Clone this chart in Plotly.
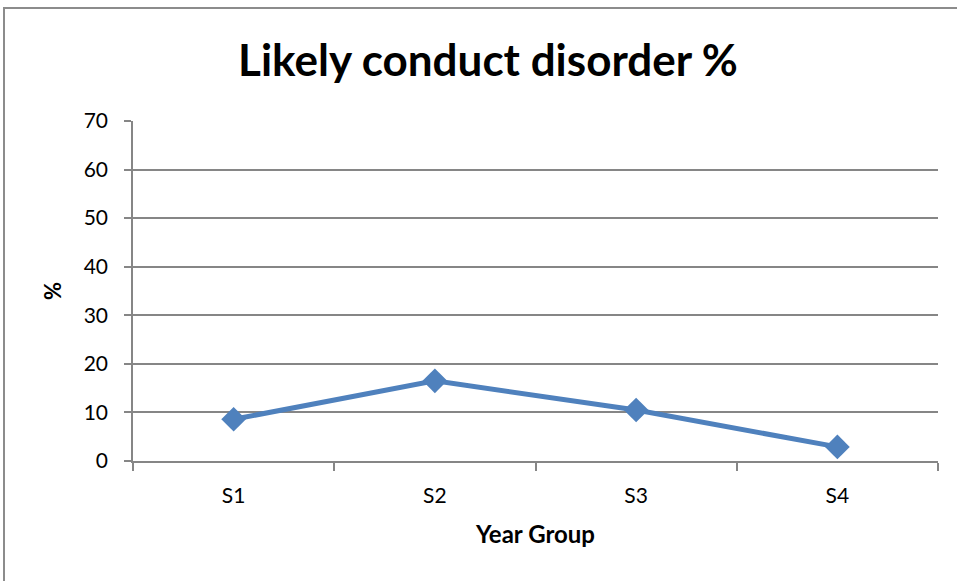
import plotly.graph_objects as go

categories = ["S1", "S2", "S3", "S4"]
values = [8.6, 16.5, 10.5, 2.9]
y_ticks = [0, 10, 20, 30, 40, 50, 60, 70]

W, H = 957, 581
L, R, T, B = 133, 19, 121, 120
pw = W - L - R
ph = H - T - B

FONT = "Lato, Open Sans, sans-serif"
GRID = "#868686"

fig = go.Figure()
fig.add_trace(go.Scatter(
    x=categories, y=values, mode="lines+markers",
    line=dict(color="#4F81BD", width=5),
    marker=dict(symbol="diamond", size=19, color="#4F81BD"),
    showlegend=False, cliponaxis=False,
))

fig.update_layout(
    width=W, height=H,
    margin=dict(l=L, r=R, t=T, b=B, autoexpand=False),
    paper_bgcolor="white", plot_bgcolor="white",
    font=dict(family=FONT, color="black"),
    title=dict(text="<b>Likely conduct disorder %</b>", x=488 / W, xanchor="center",
               y=1 - 61 / H, yanchor="middle", font=dict(size=44, family=FONT)),
    xaxis=dict(
        type="category", tickson="boundaries", ticks="outside", ticklen=8,
        tickcolor=GRID, tickwidth=1.5, showgrid=False,
        showline=True, linecolor=GRID, linewidth=1.5,
        tickfont=dict(size=21), range=[-0.5, 3.5],
        title=dict(text="<b>Year Group</b>", font=dict(size=24), standoff=20),
        ticklabelstandoff=15,
    ),
    yaxis=dict(
        range=[0, 70], tickvals=y_ticks, ticks="outside", ticklen=7,
        tickcolor=GRID, tickwidth=1.5, showgrid=True, gridcolor=GRID, gridwidth=1.5,
        showline=True, linecolor=GRID, linewidth=1.5, zeroline=False,
        tickfont=dict(size=21), ticklabelstandoff=12,
        title=dict(text="<b>%</b>", font=dict(size=22), standoff=16),
    ),
    shapes=[dict(
        type="rect", xref="paper", yref="paper",
        x0=(4 - L) / pw, x1=(W + 10 - L) / pw,
        y0=-(B + 10) / ph,
        y1=1 + (T - 8) / ph,
        line=dict(color="#8C8C8C", width=2), layer="below",
    )],
)

fig.write_html(
    "out.html",
    config={"displayModeBar": False},
    post_script="document.body.style.margin='0';document.body.style.overflow='hidden';",
)
